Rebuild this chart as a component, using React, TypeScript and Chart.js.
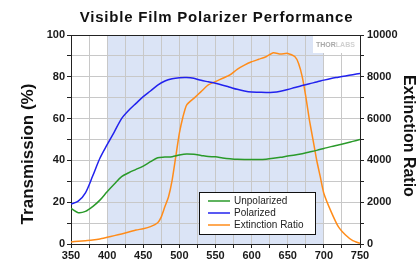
import { useEffect, useRef } from 'react';
import { Chart, registerables } from 'chart.js';

Chart.register(...registerables);

// ---- data ----
const wavelengths = [350, 360, 370, 380, 390, 400, 410, 420, 430, 440, 450, 460, 470, 480, 490, 500, 510, 520, 530, 540, 550, 560, 570, 580, 590, 600, 610, 620, 630, 640, 650, 660, 670, 680, 690, 700, 710, 720, 730, 740, 750];
const unpolarized = [17, 15, 15.6, 17.9, 21, 25, 28.7, 32.2, 34.1, 35.7, 37.3, 39.4, 41.3, 41.6, 41.8, 42.6, 43.1, 42.9, 42.4, 41.9, 41.7, 41.2, 40.8, 40.5, 40.4, 40.4, 40.4, 40.6, 41, 41.5, 42.1, 42.6, 43.2, 44, 44.8, 45.7, 46.6, 47.4, 48.2, 49.1, 50];
const polarized = [19.1, 20.5, 24.5, 32.5, 41, 47.5, 53.7, 60, 64, 67.3, 70.5, 73.2, 76, 78, 79.1, 79.6, 79.7, 79.3, 78.3, 77.6, 76.9, 76, 75, 74, 73.2, 72.7, 72.6, 72.5, 72.6, 73.1, 73.9, 74.9, 75.8, 76.7, 77.5, 78.4, 79.2, 79.8, 80.4, 81, 81.6];
const extWavelengths = [350, 360, 370, 380, 390, 400, 410, 420, 430, 440, 450, 460, 470, 475, 480, 485, 490, 495, 500, 505, 510, 520, 530, 540, 550, 560, 570, 580, 590, 600, 610, 620, 630, 640, 650, 660, 665, 670, 675, 680, 685, 690, 695, 700, 710, 720, 730, 740, 750];
const extinction = [100, 130, 160, 190, 240, 320, 400, 480, 570, 670, 730, 830, 1020, 1300, 1790, 2260, 3060, 4180, 5300, 6090, 6650, 6970, 7290, 7610, 7770, 7930, 8090, 8360, 8560, 8720, 8840, 8960, 9150, 9090, 9120, 8960, 8640, 8010, 7050, 5930, 4980, 4020, 3220, 2420, 1550, 830, 430, 160, 30];

const chartTitle = 'Visible Film Polarizer Performance';
const leftTitle = 'Transmission (%)';
const rightTitle = 'Extinction Ratio';
const seriesNames = ['Unpolarized', 'Polarized', 'Extinction Ratio'];
const seriesColors = ['#2a9a2a', '#2222ee', '#ff8c1a'];
const bandRange = [400, 700];
const logoText = ['THOR', 'LABS'];

const FONT = "'Liberation Sans', Arial, sans-serif";

const decor = {
  id: 'decor',
  beforeDraw(chart: any) {
    const { ctx, chartArea: a, scales } = chart;
    ctx.save();
    ctx.fillStyle = '#ffffff';
    ctx.fillRect(0, 0, chart.width, chart.height);
    const x0 = scales.x.getPixelForValue(bandRange[0]);
    const x1 = scales.x.getPixelForValue(bandRange[1]);
    ctx.fillStyle = '#dbe4f6';
    ctx.fillRect(x0, a.top, x1 - x0, a.bottom - a.top);
    ctx.restore();
  },
  beforeDatasetsDraw(chart: any) {
    const { ctx, chartArea: a } = chart;
    ctx.save();
    ctx.fillStyle = '#ffffff';
    ctx.fillRect(a.right - 47, a.top + 1, 44, 17);
    ctx.font = `bold 7px ${FONT}`;
    ctx.textBaseline = 'middle';
    ctx.fillStyle = '#a8a8a8';
    ctx.fillText(logoText[0], a.right - 44, a.top + 10);
    const w = ctx.measureText(logoText[0]).width;
    ctx.fillStyle = '#d0d0d0';
    ctx.fillText(logoText[1], a.right - 44 + w, a.top + 10);
    ctx.restore();
  },
  afterDraw(chart: any) {
    const { ctx, chartArea: a } = chart;
    ctx.save();
    // frame top
    ctx.strokeStyle = '#222';
    ctx.lineWidth = 1;
    ctx.beginPath();
    ctx.moveTo(a.left, a.top + 0.5);
    ctx.lineTo(a.right, a.top + 0.5);
    ctx.stroke();

    // title
    ctx.fillStyle = '#111';
    ctx.font = `bold 15px ${FONT}`;
    ctx.textAlign = 'center';
    ctx.textBaseline = 'middle';
    (ctx as any).letterSpacing = '0.8px';
    ctx.fillText(chartTitle, (a.left + a.right) / 2 + 1, 18);
    (ctx as any).letterSpacing = '0px';

    // left axis title
    ctx.save();
    ctx.translate(28, 154);
    ctx.rotate(-Math.PI / 2);
    ctx.font = `bold 17px ${FONT}`;
    ctx.fillText(leftTitle, 0, 0);
    ctx.restore();

    // right axis title
    ctx.save();
    ctx.translate(408, 136);
    ctx.rotate(Math.PI / 2);
    ctx.font = `bold 16px ${FONT}`;
    ctx.fillText(rightTitle, 0, 0);
    ctx.restore();

    // legend
    const lx = a.left + 128, ly = a.top + 157, lw = 116, lh = 42;
    ctx.fillStyle = '#fff';
    ctx.fillRect(lx, ly, lw, lh);
    ctx.strokeStyle = '#111';
    ctx.strokeRect(lx + 0.5, ly + 0.5, lw, lh);
    ctx.font = `10px ${FONT}`;
    ctx.textAlign = 'left';
    ctx.textBaseline = 'middle';
    seriesNames.forEach((name, i) => {
      const y = ly + 9 + i * 12;
      ctx.strokeStyle = seriesColors[i];
      ctx.lineWidth = 1.5;
      ctx.beginPath();
      ctx.moveTo(lx + 9, y);
      ctx.lineTo(lx + 31, y);
      ctx.stroke();
      ctx.fillStyle = '#222';
      ctx.fillText(name, lx + 35, y);
    });
    ctx.restore();
  },
};

export default function App() {
  const ref = useRef<HTMLCanvasElement | null>(null);
  useEffect(() => {
    document.body.style.margin = '0';
    const canvas = ref.current;
    if (!canvas) return;
    const tickFont = { family: FONT, weight: 'bold' as const, size: 11 };
    const chart = new Chart(canvas, {
      type: 'line',
      data: {
        datasets: [
          {
            label: seriesNames[0],
            data: wavelengths.map((w, i) => ({ x: w, y: unpolarized[i] })),
            borderColor: seriesColors[0],
            borderWidth: 1.5,
            pointRadius: 0,
            tension: 0.3,
            yAxisID: 'y',
          },
          {
            label: seriesNames[1],
            data: wavelengths.map((w, i) => ({ x: w, y: polarized[i] })),
            borderColor: seriesColors[1],
            borderWidth: 1.5,
            pointRadius: 0,
            tension: 0.3,
            yAxisID: 'y',
          },
          {
            label: seriesNames[2],
            data: extWavelengths.map((w, i) => ({ x: w, y: extinction[i] })),
            borderColor: seriesColors[2],
            borderWidth: 1.5,
            pointRadius: 0,
            tension: 0.2,
            yAxisID: 'y1',
          },
        ],
      },
      options: {
        responsive: false,
        animation: false,
        layout: { padding: { top: 35, left: 0, right: 0, bottom: 0 } },
        plugins: {
          legend: { display: false },
          title: { display: false },
          tooltip: { enabled: false },
        },
        scales: {
          x: {
            type: 'linear',
            min: 350,
            max: 750,
            ticks: {
              stepSize: 25,
              autoSkip: false,
              maxRotation: 0,
              font: tickFont,
              color: '#1a1a1a',
              padding: 1,
              callback: (v: any) => (Number(v) % 50 === 0 ? String(v) : ''),
            },
            grid: { color: '#c8c8c8', tickColor: '#222', tickLength: 4, lineWidth: 1 },
            border: { color: '#222' },
            afterFit: (s: any) => { s.height = 22; },
          },
          y: {
            position: 'left',
            min: 0,
            max: 100,
            ticks: {
              stepSize: 10,
              autoSkip: false,
              font: tickFont,
              color: '#1a1a1a',
              padding: 2,
              callback: (v: any) => (Number(v) % 20 === 0 ? String(v) : ''),
            },
            grid: { color: '#c8c8c8', tickColor: '#222', tickLength: 4 },
            border: { color: '#222' },
            afterFit: (s: any) => { s.width = 71; },
          },
          y1: {
            position: 'right',
            min: 0,
            max: 10000,
            ticks: {
              stepSize: 1000,
              autoSkip: false,
              font: tickFont,
              color: '#1a1a1a',
              padding: 3,
              callback: (v: any) => (Number(v) % 2000 === 0 ? String(v) : ''),
            },
            grid: { drawOnChartArea: false, tickColor: '#222', tickLength: 4 },
            border: { color: '#222' },
            afterFit: (s: any) => { s.width = 59; },
          },
        },
      },
      plugins: [decor],
    });
    return () => chart.destroy();
  }, []);
  return <canvas ref={ref} width={419} height={266} style={{ display: 'block', width: 419, height: 266 }} />;
}
